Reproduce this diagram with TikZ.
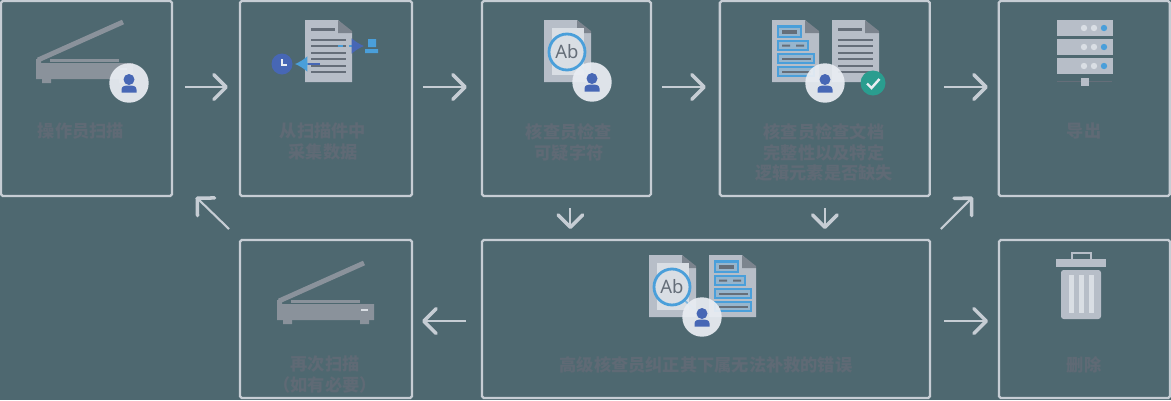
\documentclass[tikz,border=0pt]{standalone}
\usepackage{fontspec}
\usepackage{xcolor}
\setsansfont{Noto Sans}
\newfontfamily\cjk{Noto Sans CJK SC}
\usetikzlibrary{arrows.meta}
\usetikzlibrary{positioning}
\definecolor{backdrop}{HTML}{4E6870}
\definecolor{frame}{HTML}{C6CDD4}
\definecolor{caption}{HTML}{5F6A75}
\definecolor{paper}{HTML}{B7BEC8}
\definecolor{fold}{HTML}{7C848E}
\definecolor{ink}{HTML}{656E79}
\definecolor{machine}{HTML}{8A929B}
\definecolor{badge}{HTML}{E9EDF3}
\definecolor{royal}{HTML}{4767B5}
\definecolor{sky}{HTML}{4A9FDA}
\definecolor{teal}{HTML}{2A9D8F}
\definecolor{pale}{HTML}{D9DEE4}
\tikzstyle{stepbox} = [draw=frame, line width=1.3pt,
	rounded corners=1pt, outer sep=0pt,
	minimum width = 3.42cm,
	minimum height = 3.9cm]
\tikzstyle{lowbox} = [stepbox, minimum height = 3.16cm]
\tikzstyle{arrow} =[-{Straight Barb[round, length=7pt, width=14pt, line width=2pt]}, frame, line width=1.2pt]
\tikzstyle{steptext} = [align=center, text=caption, font=\cjk\bfseries\fontsize{9.8}{11.9}\selectfont]
\newcommand{\drawscanner}[2]{\begin{scope}[shift={(#1,#2)}]
	\draw[machine, line width=2.8pt] (2,39) -- (87,1);
	\fill[machine] (14,38) rectangle (83,41);
	\fill[machine] (0,38) -- (5,38) -- (5,42) -- (97,42) -- (97,58) -- (0,58) -- cycle;
	\fill[machine] (6,58) rectangle (15,62) (83,58) rectangle (92,62);
	\fill[pale] (84,47) rectangle (91,49);
	\end{scope}}
\newcommand{\drawperson}[2]{\begin{scope}[shift={(#1,#2)}]
	\fill[badge, fill opacity=.93] (0,0) circle (19.7);
	\fill[royal] (0,-3.5) circle (5.5);
	\fill[royal] (-7.5,9.5) -- (7.5,9.5) -- (7.5,6.5)
		.. controls (7.5,3) and (4,2.5) .. (0,2.5)
		.. controls (-4,2.5) and (-7.5,3) .. (-7.5,6.5) -- cycle;
	\end{scope}}
\newcommand{\drawdoc}[2]{\begin{scope}[shift={(#1,#2)}]
	\fill[paper] (0,0) -- (33,0) -- (47,13) -- (47,62) -- (0,62) -- cycle;
	\fill[fold] (33,0) -- (47,11) -- (47,13) -- (33,13) -- cycle;
	\end{scope}}
\newcommand{\drawlines}[2]{\begin{scope}[shift={(#1,#2)}]
	\fill[ink] (6,8) rectangle (30,11);
	\foreach \y in {19,25,32,38,45,51} {
		\fill[ink] (6,\y) rectangle (41,\y+2.2);
	}
	\end{scope}}
\newcommand{\drawlens}[2]{\begin{scope}[shift={(#1,#2)}]
	\fill[pale] (8,8) rectangle (40,55);
	\draw[sky!60!pale, line width=1pt] (35,45) -- (50,58);
	\draw[sky, line width=1.6pt, fill=pale] (23,32) circle (18);
	\node (ab) at (23,32) [text=ink, font=\sffamily\bfseries\fontsize{10.5}{11}\selectfont] {Ab};
	\end{scope}}
\newcommand{\drawform}[2]{\begin{scope}[shift={(#1,#2)}]
	\draw[sky, line width=1.4pt, fill=paper!70!sky] (6,6.5) rectangle (29,17);
	\fill[ink] (10,9.5) rectangle (25,14);
	\draw[sky, line width=1.4pt, fill=paper!70!sky] (6,21) rectangle (36,30);
	\fill[ink] (10,24.5) rectangle (18,26.5) (24,24.5) rectangle (32,26.5);
	\draw[sky, line width=1.4pt, fill=paper!70!sky] (6,34) rectangle (42,43);
	\fill[ink] (10,37.5) rectangle (39,39.5);
	\draw[sky, line width=1.4pt, fill=paper!70!sky] (6,47) rectangle (42,56);
	\fill[ink] (10,50.5) rectangle (39,52.5);
	\end{scope}}
\begin{document}
\begin{tikzpicture}[x=0.02cm, y=-0.02cm]
	\useasboundingbox (0,0) rectangle (1171,400);
	\fill[backdrop] (0,0) rectangle (1171,400);

	\node (scan) [stepbox] at (86.5,98.5) {};
	\node (extract) [stepbox, minimum width=3.44cm, right=1.36cm of scan] {};
	\node (chars) [stepbox, minimum width=3.38cm, right=1.4cm of extract] {};
	\node (check) [stepbox, minimum width=4.2cm, right=1.38cm of chars] {};
	\node (export) [stepbox, right=1.38cm of check] {};
	\node (rescan) [lowbox, minimum width=3.44cm] at (326,319) {};
	\node (senior) [lowbox, minimum width=8.96cm] at (706,319) {};
	\node (delete) [lowbox] at (1084.5,319) {};

	\draw [arrow] ([shift={(13,86)}]scan.north east) -- ([shift={(-12,86)}]extract.north west);
	\draw [arrow] ([shift={(11,86)}]extract.north east) -- ([shift={(-15,86)}]chars.north west);
	\draw [arrow] ([shift={(11,86)}]chars.north east) -- ([shift={(-14,86)}]check.north west);
	\draw [arrow] ([shift={(14,86)}]check.north east) -- ([shift={(-11,86)}]export.north west);
	\draw [arrow] ([shift={(4,12)}]chars.south) -- ([shift={(4,-11)}]chars.south |- senior.north);
	\draw [arrow] ([yshift=-0.24cm]check.south) -- ([yshift=0.22cm]check.south |- senior.north);
	\draw [arrow] ([shift={(11,-11)}]senior.north east) -- ([shift={(-26,1)}]export.south west);
	\draw [arrow] ([shift={(-11,-11)}]rescan.north west) -- ([shift={(24,1)}]scan.south east);
	\draw [arrow] ([shift={(-16,81)}]senior.north west) -- ([shift={(10,81)}]rescan.north east);
	\draw [arrow] ([shift={(14,81)}]senior.north east) -- ([shift={(-11,81)}]delete.north west);

	% icons
	\drawscanner{36}{21};
	\drawperson{129}{83};

	\drawdoc{305}{20};
	\drawlines{305}{20};
	\draw[sky, dashed, line width=1pt] (338,46) -- (352,46);
	\draw[royal, -{Latex[length=7pt, width=9pt]}, line width=1pt] (352,46) -- (364,46);
	\fill[sky] (368,39) rectangle (376,47) (365,49) rectangle (378,53);
	\draw[royal, line width=1pt] (320,64) -- (308,64);
	\draw[sky, -{Latex[length=7pt, width=9pt]}, line width=1pt] (308,64) -- (295,64);
	\fill[royal] (282,64) circle (10.5);
	\draw[badge, line width=1.1pt] (282,59) -- (282,65) -- (287,65);

	\drawdoc{544}{20};
	\drawlens{544}{20};
	\drawperson{592}{82};

	\drawdoc{772}{20};
	\drawform{772}{20};
	\drawdoc{832}{20};
	\drawlines{832}{20};
	\drawperson{825}{83};
	\fill[teal] (873,83) circle (12.5);
	\draw[badge, line width=1.4pt] (867,83.5) -- (871.5,88) -- (879.5,79);

	\drawdoc{649}{255};
	\drawlens{649}{255};
	\drawdoc{709}{255};
	\drawform{709}{255};
	\drawperson{702}{317};

	\drawscanner{277}{262};

	% server
	\foreach \y in {20,39,58} {
		\fill[paper] (1057,\y) rectangle (1113,\y+16);
		\fill[pale] (1084,\y+8) circle (3.2) (1094,\y+8) circle (3.2);
		\fill[sky] (1104,\y+8) circle (3.2);
	}
	\draw[ink, line width=0.3pt] (1057,81.5) -- (1112,81.5);
	\fill[paper] (1081,78) rectangle (1089,86);

	% bin
	\fill[paper] (1056,259) rectangle (1106,267);
	\draw[paper, line width=1.2pt] (1072,259) -- (1072,253) -- (1091,253) -- (1091,259);
	\fill[paper, rounded corners=1.5pt] (1061,270) rectangle (1101,319);
	\foreach \x in {1069,1079,1089} {
		\fill[pale] (\x,275) rectangle (\x+5,313);
	}

	\node (scantext) [steptext, anchor=north] at (81,117) {操作员扫描};
	\node (extracttext) [steptext, anchor=north] at (323,117) {从扫描件中\\采集数据};
	\node (charstext) [steptext, anchor=north] at (569,117) {核查员检查\\可疑字符};
	\node (checktext) [steptext, anchor=north] at (824,117) {核查员检查文档\\完整性以及特定\\逻辑元素是否缺失};
	\node (exporttext) [steptext, anchor=north] at (1084,117) {导出};
	\node (seniortext) [steptext, anchor=north] at (706,350) {高级核查员纠正其下属无法补救的错误};
	\node (rescantext) [steptext, anchor=north] at (325,350) {再次扫描\\（如有必要）};
	\node (deletetext) [steptext, anchor=north] at (1084,350) {删除};
\end{tikzpicture}
\end{document}
